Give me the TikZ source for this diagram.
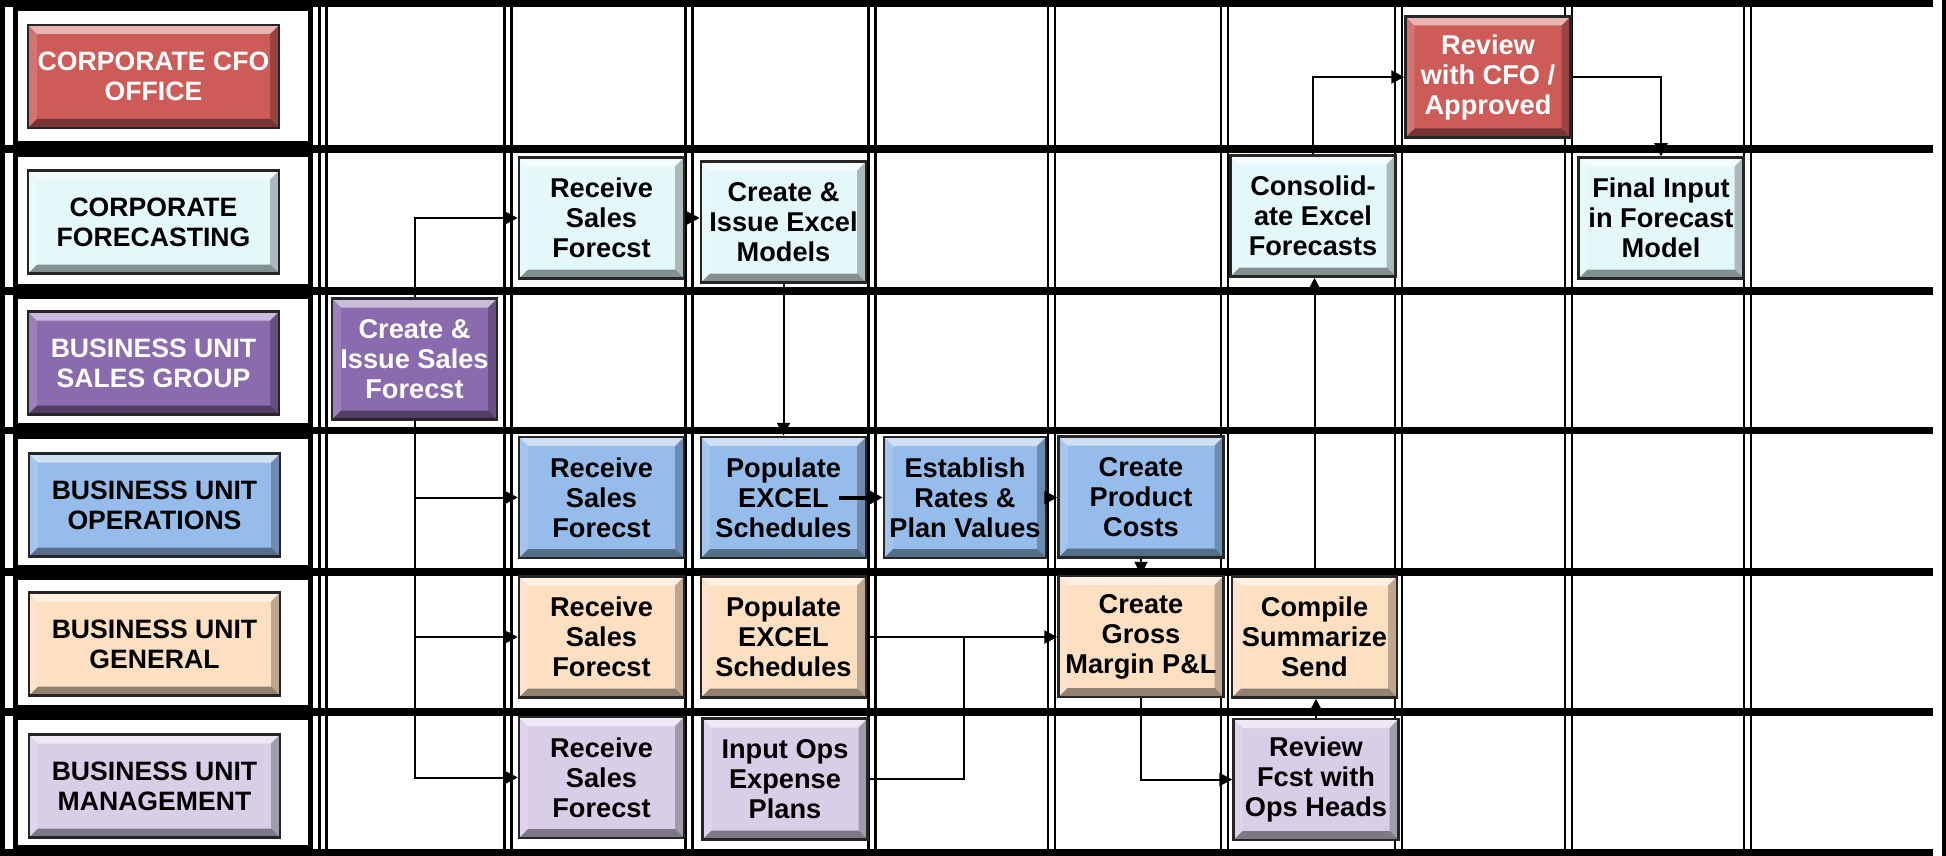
\documentclass[tikz,border=0pt]{standalone}
\usepackage{fontspec}
\setmainfont{Liberation Sans}
\usetikzlibrary{arrows.meta}
\definecolor{cfored}{HTML}{CD5B58}
\definecolor{cfcyan}{HTML}{E4F8FC}
\definecolor{salespur}{HTML}{8A6BAD}
\definecolor{opsblue}{HTML}{95BCEB}
\definecolor{genpeach}{HTML}{FDDFC2}
\definecolor{mgmtlav}{HTML}{D9CEE7}
\tikzset{
  bevel/.style={path picture={
    \path (path picture bounding box.north west) coordinate (bnw)
          (path picture bounding box.north east) coordinate (bne)
          (path picture bounding box.south east) coordinate (bse)
          (path picture bounding box.south west) coordinate (bsw)
          ([shift={(9pt,-9pt)}]path picture bounding box.north west) coordinate (inw)
          ([shift={(-9pt,-9pt)}]path picture bounding box.north east) coordinate (ine)
          ([shift={(-9pt,9pt)}]path picture bounding box.south east) coordinate (ise)
          ([shift={(9pt,9pt)}]path picture bounding box.south west) coordinate (isw);
    \fill[white,opacity=.55] (bnw) -- (bne) -- (ine) -- (inw) -- cycle;
    \fill[white,opacity=.15] (bnw) -- (inw) -- (isw) -- (bsw) -- cycle;
    \fill[black,opacity=.25] (bne) -- (bse) -- (ise) -- (ine) -- cycle;
    \fill[black,opacity=.42] (bsw) -- (bse) -- (ise) -- (isw) -- cycle;
  }},
  boxbase/.style={draw=black!85, line width=2.5pt, inner sep=0pt, align=center, bevel},
  lab/.style={boxbase, minimum width=251pt, minimum height=103pt,
    font=\bfseries\fontsize{26.6}{30}\selectfont},
  proc/.style={boxbase, minimum width=165pt, minimum height=121pt,
    font=\bfseries\fontsize{27.2}{30}\selectfont},
  conn/.style={line width=2pt, -{Triangle[length=13pt,width=13pt]}},
  plainconn/.style={line width=2pt},
  rowline/.style={line width=7.5pt},
  colline/.style={line width=2.4pt},
  cellbox/.style={line width=5pt},
}
\begin{document}
\begin{tikzpicture}[x=1pt,y=-1pt]
\fill[white] (0,0) rectangle (1946,856);
\useasboundingbox (0,0) rectangle (1946,856);

% vertical double lines
\foreach \c in {323,508,689,872,1051.5,1224.5,1398.5,1568.5,1747.5}{
  \draw[colline] (\c-3.4,6) -- (\c-3.4,850);
  \draw[colline] (\c+3.4,6) -- (\c+3.4,850);
}
% horizontal lane lines
\foreach \y in {3.5,149,291,430.5,572,712,852.5}{
  \draw[rowline] (0,\y) -- (1933,\y);
}
% outer left and right lines
\draw[line width=5pt] (2.5,0) -- (2.5,853);
\draw[line width=4pt] (1944,0) -- (1944,856);
% label column cells
\draw[cellbox] (15.5,9) rectangle (310,144);
\draw[cellbox] (15.5,154.5) rectangle (310,286);
\draw[cellbox] (15.5,296.5) rectangle (310,425.5);
\draw[cellbox] (15.5,436) rectangle (310,567);
\draw[cellbox] (15.5,577.5) rectangle (310,707);
\draw[cellbox] (15.5,717.5) rectangle (310,847);

% lane labels
\node[lab, fill=cfored, text=white] (lcfo) at (153.5,76.5) {CORPORATE CFO\\OFFICE};
\node[lab, fill=cfcyan] (lcf) at (153.5,222) {CORPORATE\\FORECASTING};
\node[lab, fill=salespur, text=white] (lsales) at (153.5,363) {BUSINESS UNIT\\SALES GROUP};
\node[lab, fill=opsblue] (lops) at (154.5,505) {BUSINESS UNIT\\OPERATIONS};
\node[lab, fill=genpeach] (lgen) at (154.5,644) {BUSINESS UNIT\\GENERAL};
\node[lab, fill=mgmtlav] (lmgmt) at (154.5,786) {BUSINESS UNIT\\MANAGEMENT};

% process boxes
\node[proc, fill=cfored, text=white] (rcfo) at (1488,77) {Review\\with CFO /\\Approved};

\node[proc, fill=cfcyan] (rsf1) at (601.5,218) {Receive\\Sales\\Forecst};
\node[proc, fill=cfcyan] (cie) at (783.5,222) {Create \&\\Issue Excel\\Models};
\node[proc, fill=cfcyan] (cons) at (1313,216) {Consolid-\\ate Excel\\Forecasts};
\node[proc, fill=cfcyan] (fin) at (1661,218) {Final Input\\in Forecast\\Model};

\node[proc, fill=salespur, text=white] (cis) at (414.5,359) {Create \&\\Issue Sales\\Forecst};

\node[proc, fill=opsblue] (rsf2) at (601.5,497.5) {Receive\\Sales\\Forecst};
\node[proc, fill=opsblue] (pop1) at (783.5,497.5) {Populate\\EXCEL\\Schedules};
\node[proc, fill=opsblue, minimum width=162pt] (est) at (965,497.5) {Establish\\Rates \&\\Plan Values};
\node[proc, fill=opsblue] (cpc) at (1141,497) {Create\\Product\\Costs};

\node[proc, fill=genpeach] (rsf3) at (601.5,637) {Receive\\Sales\\Forecst};
\node[proc, fill=genpeach] (pop2) at (783.5,637) {Populate\\EXCEL\\Schedules};
\node[proc, fill=genpeach] (cgm) at (1141,636.5) {Create\\Gross\\Margin P\&L};
\node[proc, fill=genpeach] (css) at (1314.5,637) {Compile\\Summarize\\Send};

\node[proc, fill=mgmtlav] (rsf4) at (601.5,777.5) {Receive\\Sales\\Forecst};
\node[proc, fill=mgmtlav] (iop) at (785,779) {Input Ops\\Expense\\Plans};
\node[proc, fill=mgmtlav] (rfo) at (1316,779.5) {Review\\Fcst with\\Ops Heads};

% connectors
\draw[conn] (cis.north) |- (rsf1.west);
\draw[conn] (cis.south) |- (rsf2.west);
\draw[conn] (cis.south) |- (rsf3.west);
\draw[conn] (cis.south) |- (rsf4.west);
\draw[conn] (rsf1.east) -- (rsf1.east -| cie.west);
\draw[conn] (cie.south) -- (pop1.north);
\coordinate (popstart) at ([xshift=-28pt]pop1.east);
\draw[conn, line width=4pt] (popstart) -- (est.west);
\draw[conn] (est.east) -- (est.east -| cpc.west);
\draw[conn] (cpc.south) -- (cpc.south |- cgm.north);
\draw[conn] (pop2.east) -- (pop2.east -| cgm.west);
\coordinate (join) at (964,637);
\draw[plainconn] (iop.east) -| (join);
\draw[conn] (cgm.south) |- (rfo.west);
\draw[conn] (rfo.north) -- (rfo.north |- css.south);
\draw[conn] (css.north) -- (css.north |- cons.south);
\draw[conn] (cons.north) |- (rcfo.west);
\draw[conn] (rcfo.east) -| (fin.north);
\end{tikzpicture}
\end{document}
